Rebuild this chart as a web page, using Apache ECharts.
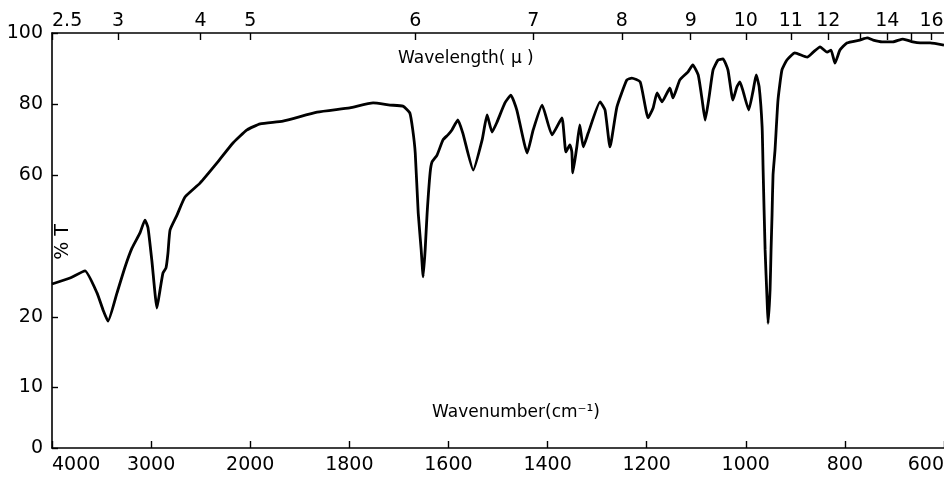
<!DOCTYPE html>
<html lang="en">
<head>
	<meta charset="UTF-8">
	<title>IR spectrum</title>
	<style>
		html, body { margin: 0; padding: 0; background: #fff; }
	</style>
</head>
<body>
	<div id="main" style="width: 944px;height: 478px"></div>
	<script src="https://cdn.jsdelivr.net/npm/echarts@6.0.0/dist/echarts.min.js"></script>
	<script>
		// spectrum: wavenumber (cm-1) and %T
		var wavenumber = [4000, 3818, 3667, 3546, 3485, 3435, 3344, 3263, 3193, 3112, 3062, 3031, 2991, 2941, 2910, 2880, 2850, 2830, 2809, 2739,
			2658, 2507, 2335, 2174, 2032, 1980, 1934, 1865, 1799, 1752, 1718, 1692, 1678, 1672, 1667, 1661, 1655, 1651, 1647, 1643,
			1637, 1633, 1623, 1611, 1601, 1593, 1581, 1571, 1550, 1532, 1522, 1512, 1502, 1486, 1474, 1462, 1441, 1429, 1411, 1391,
			1371, 1363, 1355, 1351, 1349, 1341, 1335, 1328, 1318, 1294, 1284, 1274, 1260, 1240, 1230, 1213, 1197, 1187, 1179, 1169,
			1153, 1147, 1133, 1117, 1107, 1096, 1088, 1082, 1074, 1066, 1056, 1046, 1036, 1026, 1018, 1012, 1006, 994, 985, 979,
			973, 967, 965, 961, 957, 955, 951, 949, 947, 945, 941, 935, 927, 917, 901, 876, 864, 850, 836, 828,
			820, 810, 796, 770, 755, 743, 725, 703, 683, 663, 648, 628, 600];
		var transmittance = [29.3, 31.0, 33.0, 26.8, 22.0, 19.4, 26.8, 34.1, 39.4, 43.7, 47.3, 45.1, 35.5, 22.5, 27.6, 32.4, 33.8, 38.0, 44.5, 48.7,
			53.8, 57.7, 63.4, 69.0, 72.7, 74.4, 75.2, 77.7, 78.9, 80.3, 79.7, 79.4, 77.5, 72.7, 66.2, 49.3, 38.9, 31.3, 38.9, 49.3,
			60.6, 63.7, 65.6, 69.9, 71.3, 72.7, 75.5, 71.8, 61.4, 69.9, 76.9, 72.1, 74.9, 80.3, 82.5, 78.3, 66.2, 72.7, 79.7, 71.3,
			76.1, 66.5, 68.5, 66.5, 60.6, 67.9, 74.1, 67.9, 71.8, 80.6, 78.3, 67.9, 79.2, 86.8, 87.3, 86.2, 76.1, 78.9, 83.1, 80.6,
			84.5, 81.7, 86.8, 89.0, 91.0, 88.2, 81.1, 75.5, 82.0, 89.6, 92.4, 92.7, 89.6, 81.1, 84.8, 86.2, 83.9, 78.3, 83.9, 88.2,
			84.8, 73.5, 61.4, 38.9, 24.8, 19.1, 27.6, 38.9, 48.7, 60.0, 67.0, 81.1, 89.6, 92.4, 94.4, 93.2, 94.6, 96.1, 94.6, 95.2,
			91.5, 95.2, 97.2, 98.0, 98.6, 98.0, 97.5, 97.5, 98.3, 97.5, 97.2, 97.2, 96.6];

		// tick labels
		var wavenumberTicks = [4000, 3000, 2000, 1800, 1600, 1400, 1200, 1000, 800, 600];
		var wavelengthTicks = [2.5, 3, 4, 5, 6, 7, 8, 9, 10, 11, 12, 14, 16];
		var wavelengthMinor = [13, 15];
		var percentTicks = [0, 10, 20, 60, 80, 100];

		// chart paper scale: 4000-2000 cm-1 is drawn at 1/5 the scale of 2000-600
		function wnToX(w) { return w >= 2000 ? (4000 - w) / 5 : 400 + (2000 - w); }
		function xToWn(x) { return x <= 400 ? 4000 - 5 * x : 2400 - x; }

		// ordinate is stretched below 20 %T
		var tKnots = [[0, 0], [10, 61], [20, 131], [100, 415]];
		function tToY(t) {
			for (var i = 1; i < tKnots.length; i++) {
				if (t <= tKnots[i][0] || i === tKnots.length - 1) {
					var a = tKnots[i - 1], b = tKnots[i];
					return a[1] + (t - a[0]) * (b[1] - a[1]) / (b[0] - a[0]);
				}
			}
		}
		function yToT(y) {
			for (var i = 1; i < tKnots.length; i++) {
				if (y <= tKnots[i][1] + 0.01 || i === tKnots.length - 1) {
					var a = tKnots[i - 1], b = tKnots[i];
					return a[0] + (y - a[1]) * (b[0] - a[0]) / (b[1] - a[1]);
				}
			}
		}

		var font = 'DejaVu Sans';
		var points = wavenumber.map(function (w, i) {
			return [wnToX(w), tToY(transmittance[i])];
		});
		var bottomVals = wavenumberTicks.map(wnToX);
		var topVals = wavelengthTicks.map(function (l) { return wnToX(10000 / l); });
		var topTickVals = wavelengthTicks.concat(wavelengthMinor).map(function (l) { return wnToX(10000 / l); })
			.sort(function (a, b) { return a - b; });
		var leftVals = percentTicks.map(tToY);

		var axisLine = { show: true, lineStyle: { color: '#000', width: 1.6 } };

		var myChart = echarts.init(document.getElementById('main'));
		var option = {
			backgroundColor: '#fff',
			animation: false,
			grid: {
				left: 52,
				right: 0,
				top: 33,
				bottom: 30,
				containLabel: false,
				outerBoundsMode: 'none'
			},
			xAxis: [
				{
					type: 'value',
					position: 'bottom',
					min: 0,
					max: 1800,
					axisLine: axisLine,
					axisTick: { show: true, inside: true, length: 7, customValues: bottomVals, lineStyle: { color: '#000', width: 1.4 } },
					splitLine: { show: false },
					axisLabel: {
						customValues: bottomVals,
						formatter: function (v) { return String(Math.round(xToWn(v))); },
						color: '#000',
						fontFamily: font,
						fontSize: 19,
						margin: 8,
						alignMinLabel: 'left',
						alignMaxLabel: 'right'
					}
				},
				{
					type: 'value',
					position: 'top',
					min: 0,
					max: 1800,
					axisLine: axisLine,
					axisTick: { show: true, inside: true, length: 7, customValues: topTickVals, lineStyle: { color: '#000', width: 1.4 } },
					splitLine: { show: false },
					axisLabel: {
						customValues: topVals,
						formatter: function (v) { return String(Math.round(100000 / xToWn(v)) / 10); },
						color: '#000',
						fontFamily: font,
						fontSize: 19,
						margin: 2,
						alignMinLabel: 'left'
					}
				}
			],
			yAxis: {
				type: 'value',
				min: 0,
				max: 415,
				axisLine: axisLine,
				axisTick: { show: true, inside: true, length: 6, customValues: leftVals, lineStyle: { color: '#000', width: 1.4 } },
				splitLine: { show: false },
				axisLabel: {
					customValues: leftVals,
					formatter: function (v) { return String(Math.round(yToT(v))); },
					color: '#000',
					fontFamily: font,
					fontSize: 19,
					margin: 9
				}
			},
			graphic: [
				{
					type: 'text',
					x: 398,
					y: 59,
					style: { text: 'Wavelength( µ )', font: '17px "DejaVu Sans"', fill: '#000', textAlign: 'left', textVerticalAlign: 'middle' }
				},
				{
					type: 'text',
					x: 432,
					y: 413,
					style: { text: 'Wavenumber(cm⁻¹)', font: '17px "DejaVu Sans"', fill: '#000', textAlign: 'left', textVerticalAlign: 'middle' }
				},
				{
					type: 'text',
					x: 63,
					y: 242,
					rotation: Math.PI / 2,
					style: { text: '% T', font: '19px "DejaVu Sans"', fill: '#000', textAlign: 'center', textVerticalAlign: 'middle' }
				}
			],
			series: [
				{
					type: 'line',
					xAxisIndex: 0,
					data: points,
					showSymbol: false,
					smooth: 0.15,
					lineStyle: { color: '#000', width: 2.8 }
				}
			]
		};

		myChart.setOption(option);
	</script>
</body>
</html>
